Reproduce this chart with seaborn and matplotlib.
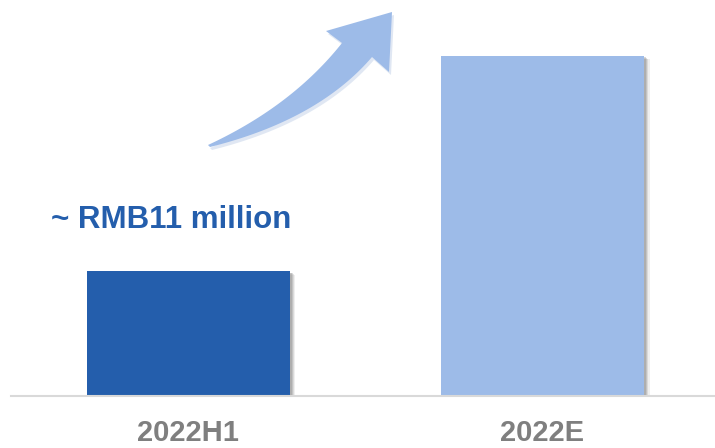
import numpy as np
import matplotlib
matplotlib.use('Agg')
import matplotlib.pyplot as plt
import matplotlib.patheffects as pe
from matplotlib.patches import Polygon
from matplotlib.transforms import Affine2D
import seaborn as sns

sns.set_style('white')
plt.rcParams['font.family'] = ['Liberation Sans', 'DejaVu Sans']

# data
categories = ['2022H1', '2022E']
values = [11, 30]
bar_colors = ['#245EAC', '#9DBBE8']
label_text = '~ RMB11 million'

fig = plt.figure(figsize=(7.15, 4.48), dpi=100)
ax = fig.add_axes([11 / 715, 52 / 448, 1 - 11 / 715, 396 / 448])

sns.barplot(x=categories, y=values, hue=categories, palette=bar_colors,
            legend=False, width=0.573, saturation=1, linewidth=0, ax=ax)

# soft (fake blurred) drop shadow on the bars
shadows = [pe.SimplePatchShadow(offset=(k, -k * 0.6), shadow_rgbFace='#808080', alpha=a)
           for k, a in [(4.0, 0.12), (3.2, 0.18), (2.4, 0.25), (1.6, 0.3)]]
for p in ax.patches:
    p.set_path_effects(shadows + [pe.Normal()])

ax.set_xlim(-0.501, 1.487)
ax.set_ylim(0, 30 * 396 / 340)
ax.set_yticks([])
ax.set_xlabel('')
ax.set_ylabel('')
for s in ['top', 'right', 'left']:
    ax.spines[s].set_visible(False)
ax.spines['bottom'].set_color('#D9D9D9')
ax.spines['bottom'].set_linewidth(1.5)
ax.tick_params(axis='x', length=0, pad=16.5, labelsize=21, labelcolor='#7F7F7F')
for t in ax.get_xticklabels():
    t.set_fontweight('bold')

ax.text(-0.05, values[0] + 3.82, label_text, ha='center', va='baseline',
        fontsize=22.5, fontweight='bold', color='#245EAC')

# curved growth arrow (decoration), drawn in pixel space of the figure
px = Affine2D().scale(1 / 715, -1 / 448).translate(0, 1) + fig.transFigure


def bez(p0, p1, p2, n=40):
    t = np.linspace(0, 1, n)[:, None]
    return (1 - t) ** 2 * np.array(p0) + 2 * (1 - t) * t * np.array(p1) + t ** 2 * np.array(p2)


upper = bez((208, 145), (292, 106), (342, 43))
lower = bez((372, 57), (318, 120), (210, 147))
head = np.array([(326, 31), (392, 12), (389, 72)])
outline = np.vstack([upper, head, lower])

shadow = Polygon(outline + [2, 3], closed=True, transform=px, facecolor='#d3deee',
                 edgecolor='none', alpha=0.7)
fig.add_artist(shadow)
arrow = Polygon(outline, closed=True, transform=px, facecolor='#9DBBE8', edgecolor='none')
fig.add_artist(arrow)

fig.savefig('out.png', dpi=100)
